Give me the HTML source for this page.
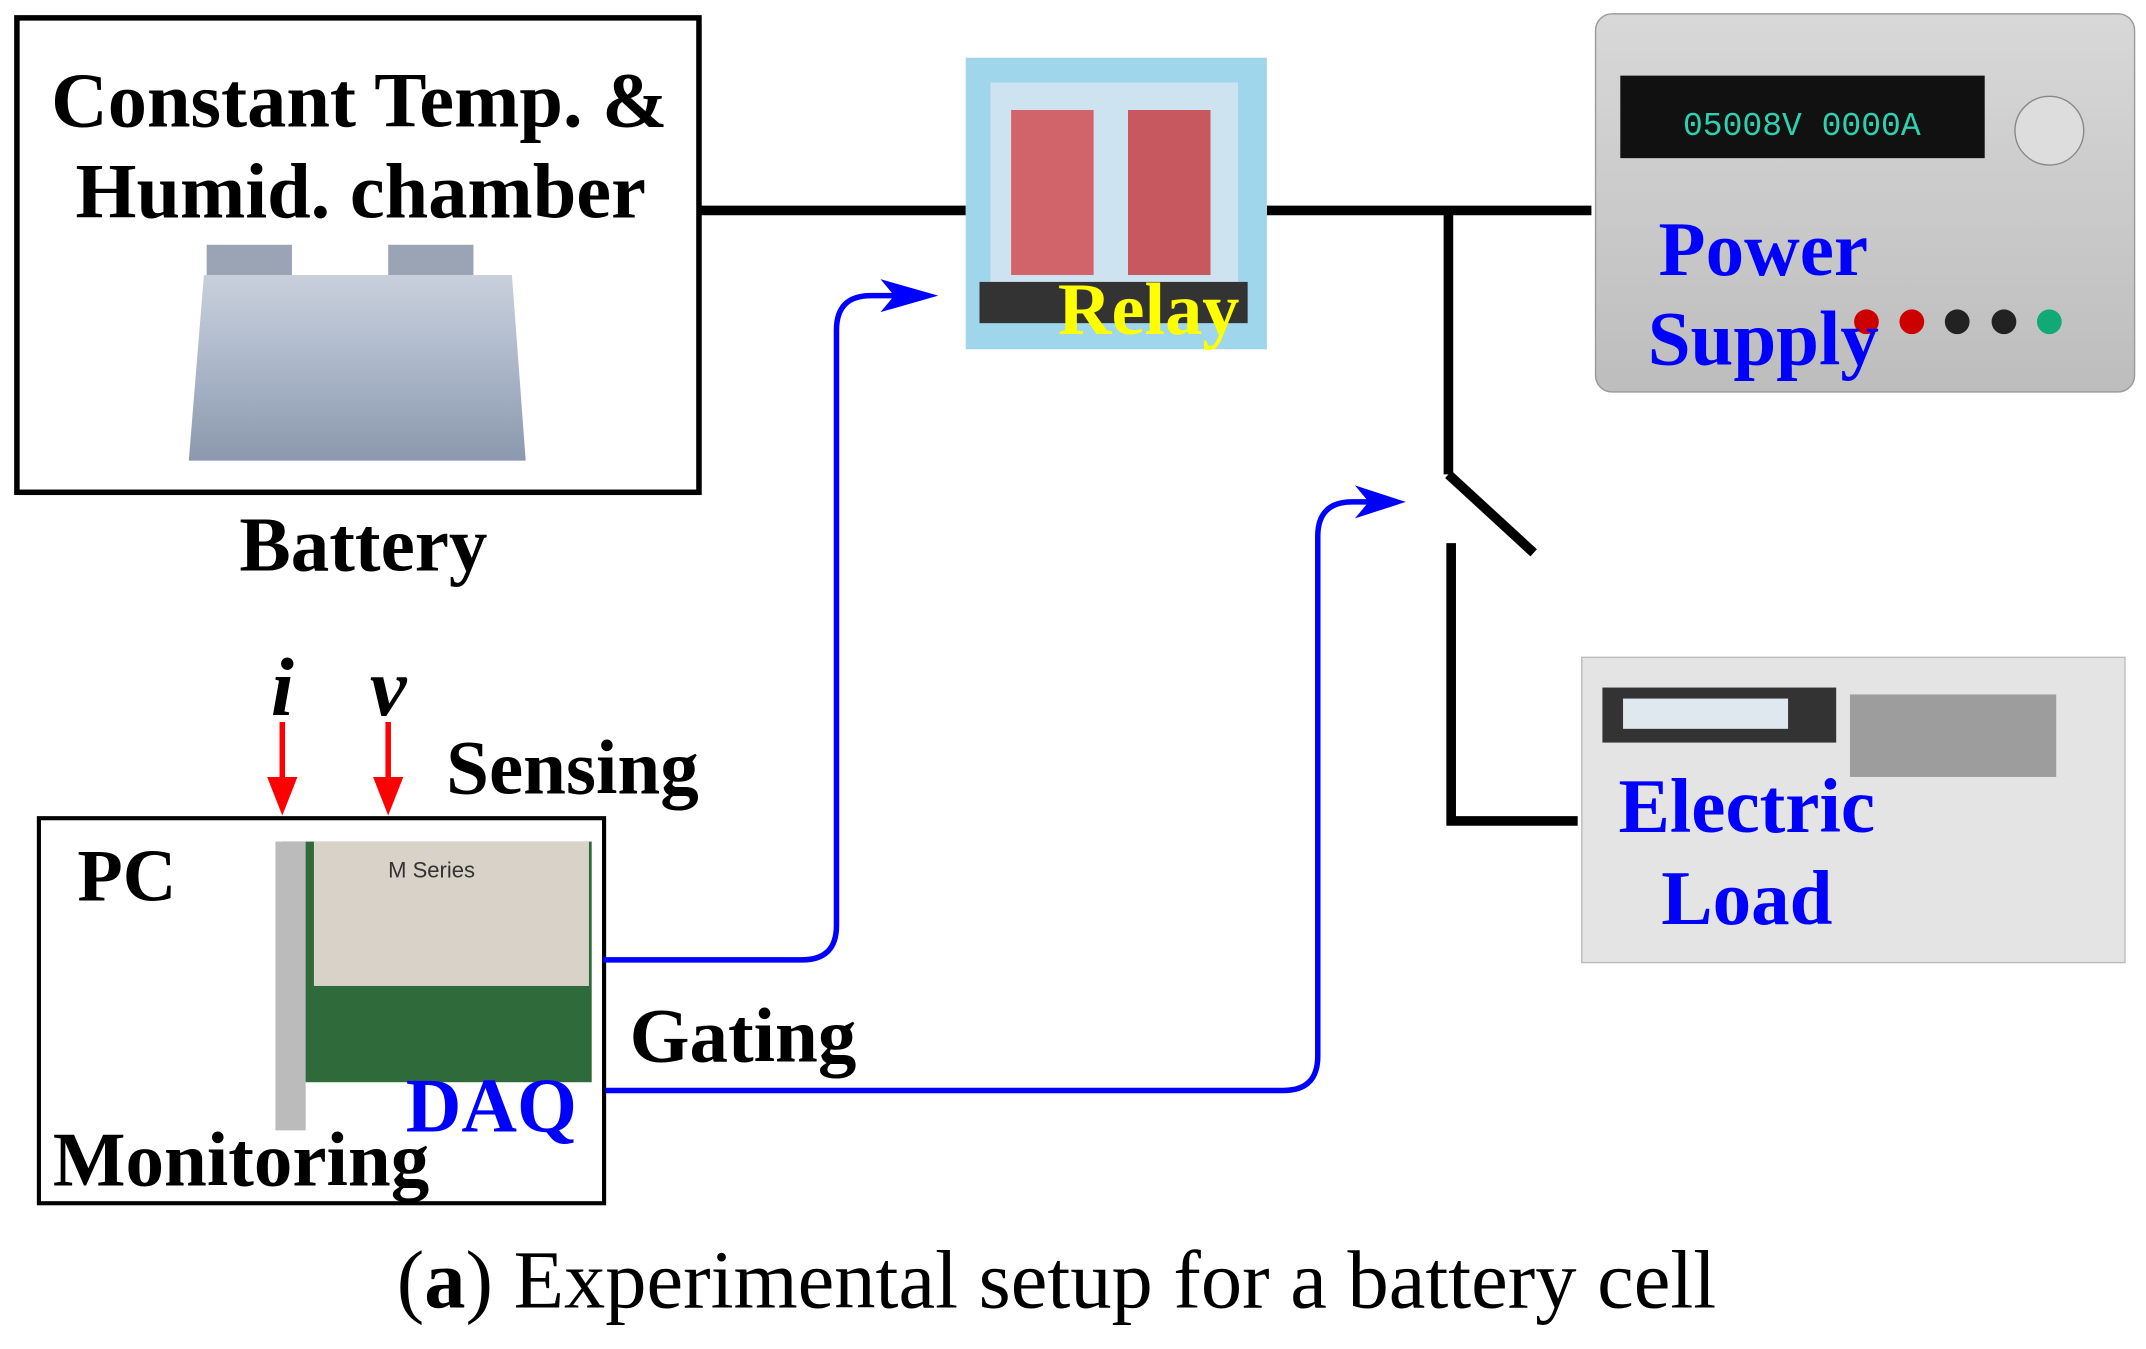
<!DOCTYPE html>
<html><head><meta charset="utf-8"><style>html,body{margin:0;padding:0;background:#fff}svg{display:block}</style></head>
<body>
<svg width="2146" height="1349" viewBox="0 0 1560 981" xmlns="http://www.w3.org/2000/svg" font-family="Liberation Serif, serif">
<defs>
<linearGradient id="bat" x1="0" y1="0" x2="0" y2="1"><stop offset="0" stop-color="#c9d0dc"/><stop offset="0.5" stop-color="#aab6c8"/><stop offset="1" stop-color="#8b98ad"/></linearGradient>
<linearGradient id="ps" x1="0" y1="0" x2="0" y2="1"><stop offset="0" stop-color="#d8d8d8"/><stop offset="1" stop-color="#bdbdbd"/></linearGradient>
</defs>
<rect x="12" y="13" width="496" height="345" fill="#fff" stroke="#000" stroke-width="4"/>
<text x="261" y="92" font-size="57" font-weight="bold" text-anchor="middle">Constant Temp. &amp;</text>
<text x="262" y="158" font-size="57" font-weight="bold" text-anchor="middle">Humid. chamber</text>
<rect x="150" y="178" width="62" height="30" fill="#9aa4b4"/>
<rect x="282" y="178" width="62" height="30" fill="#9aa4b4"/>
<path d="M148 200 L372 200 L382 335 L137 335 Z" fill="url(#bat)"/>
<text x="264" y="415" font-size="56" font-weight="bold" text-anchor="middle">Battery</text>
<g stroke="#000" stroke-width="7" fill="none">
<line x1="508" y1="153" x2="702" y2="153"/>
<line x1="921" y1="153" x2="1157" y2="153"/>
<line x1="1053" y1="153" x2="1053" y2="345"/>
<line x1="1053" y1="345" x2="1115" y2="402"/>
<polyline points="1055,395 1055,597 1147,597"/>
</g>
<rect x="702" y="42" width="219" height="212" fill="#9fd6ec"/>
<rect x="720" y="60" width="180" height="150" fill="#d8e6f0" opacity="0.8"/>
<rect x="735" y="80" width="60" height="120" fill="#d0646a"/>
<rect x="820" y="80" width="60" height="120" fill="#c85860"/>
<rect x="712" y="205" width="195" height="30" fill="#333"/>
<text x="835" y="243" font-size="54" font-weight="bold" fill="#ffff00" text-anchor="middle">Relay</text>
<rect x="1160" y="10" width="392" height="275" rx="12" fill="url(#ps)" stroke="#999"/>
<rect x="1178" y="55" width="265" height="60" fill="#111"/>
<text x="1310" y="98" font-size="24" fill="#2fd0b0" text-anchor="middle" font-family="Liberation Mono, monospace">05008V 0000A</text>
<circle cx="1490" cy="95" r="25" fill="#ddd" stroke="#888"/>
<g fill="#222"><circle cx="1357" cy="234" r="9" fill="#c00"/><circle cx="1390" cy="234" r="9" fill="#c00"/><circle cx="1423" cy="234" r="9"/><circle cx="1457" cy="234" r="9"/><circle cx="1490" cy="234" r="9" fill="#1a7"/></g>
<text x="1282" y="200" font-size="56" font-weight="bold" fill="#0000ff" text-anchor="middle">Power</text>
<text x="1282" y="265" font-size="56" font-weight="bold" fill="#0000ff" text-anchor="middle">Supply</text>
<rect x="1150" y="478" width="395" height="222" fill="#e4e4e4" stroke="#bbb"/>
<rect x="1165" y="500" width="170" height="40" fill="#333"/>
<rect x="1180" y="508" width="120" height="22" fill="#dfe8ef"/>
<rect x="1345" y="505" width="150" height="60" fill="#555" opacity="0.5"/>
<text x="1270" y="605" font-size="56" font-weight="bold" fill="#0000ff" text-anchor="middle">Electric</text>
<text x="1270" y="672" font-size="56" font-weight="bold" fill="#0000ff" text-anchor="middle">Load</text>
<rect x="28" y="595" width="411" height="280" fill="#fff" stroke="#000" stroke-width="3"/>
<text x="92" y="655" font-size="54" font-weight="bold" text-anchor="middle">PC</text>
<rect x="205" y="612" width="225" height="175" fill="#2f6a3a"/>
<rect x="228" y="612" width="200" height="105" fill="#d8d2c8"/>
<rect x="200" y="612" width="22" height="210" fill="#bbb"/>
<text x="282" y="638" font-size="16" fill="#333" font-family="Liberation Sans, sans-serif">M Series</text>
<text x="357" y="823" font-size="56" font-weight="bold" fill="#0000ff" text-anchor="middle">DAQ</text>
<text x="175" y="862" font-size="56" font-weight="bold" text-anchor="middle">Monitoring</text>
<text x="205" y="520" font-size="60" font-weight="bold" font-style="italic" text-anchor="middle">i</text>
<text x="282" y="520" font-size="60" font-weight="bold" font-style="italic" text-anchor="middle">v</text>
<g stroke="#f00" stroke-width="4"><line x1="205" y1="525" x2="205" y2="570"/><line x1="282" y1="525" x2="282" y2="570"/></g>
<g fill="#f00"><path d="M194 565 L216 565 L205 593 Z"/><path d="M271 565 L293 565 L282 593 Z"/></g>
<text x="416" y="577" font-size="56" font-weight="bold" text-anchor="middle">Sensing</text>
<g stroke="#0000ff" stroke-width="4" fill="none">
<path d="M438 698 L583 698 Q608 698 608 673 L608 240 Q608 215 633 215 L660 215"/>
<path d="M440 793 L933 793 Q958 793 958 768 L958 390 Q958 365 983 365 L1000 365"/>
</g>
<path d="M640 203 L682 215 L640 227 L650 215 Z" fill="#0000ff"/>
<path d="M985 353 L1022 365 L985 377 L995 365 Z" fill="#0000ff"/>
<text x="540" y="772" font-size="56" font-weight="bold" text-anchor="middle">Gating</text>
<text x="768" y="951" font-size="60" text-anchor="middle">(<tspan font-weight="bold">a</tspan>) Experimental setup for a battery cell</text>
</svg>
</body></html>
